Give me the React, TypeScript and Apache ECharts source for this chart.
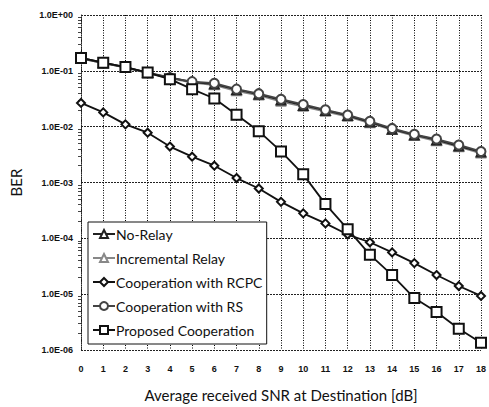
import React, { useEffect, useRef } from "react";
import * as echarts from "echarts";

const snr = [0, 1, 2, 3, 4, 5, 6, 7, 8, 9, 10, 11, 12, 13, 14, 15, 16, 17, 18];
const noRelay = [0.171, 0.14, 0.117, 0.093, 0.076, 0.063, 0.058, 0.046, 0.038, 0.03, 0.024, 0.0195, 0.0158, 0.0121, 0.009, 0.0071, 0.0058, 0.0045, 0.0035];
const incrementalRelay = [0.165, 0.136, 0.113, 0.09, 0.073, 0.061, 0.055, 0.043, 0.036, 0.028, 0.0228, 0.0185, 0.015, 0.0115, 0.0087, 0.0068, 0.0055, 0.0043, 0.0033];
const coopRCPC = [0.0266, 0.018, 0.011, 0.0078, 0.0044, 0.0029, 0.002, 0.0012, 0.00078, 0.00045, 0.00028, 0.000185, 0.000117, 0.000085, 0.000056, 0.000036, 0.000022, 0.000014, 0.0000093];
const coopRS = [0.168, 0.138, 0.115, 0.092, 0.075, 0.064, 0.06, 0.047, 0.039, 0.031, 0.025, 0.02, 0.0162, 0.0125, 0.0093, 0.0073, 0.006, 0.0047, 0.0036];
const proposed = [0.17, 0.14, 0.117, 0.093, 0.071, 0.047, 0.032, 0.0163, 0.0083, 0.0036, 0.0014, 0.00041, 0.000146, 0.000051, 0.000022, 0.0000085, 0.0000048, 0.0000024, 0.00000135];

const seriesNames = ["No-Relay", "Incremental Relay", "Cooperation with RCPC", "Cooperation with RS", "Proposed Cooperation"];

function pairs(v: number[]) {
  return snr.map((x, i) => [x, v[i]]);
}

export default function App() {
  const ref = useRef<HTMLDivElement>(null);
  useEffect(() => {
    if (!ref.current) return;
    const chart = echarts.init(ref.current, null, { renderer: "svg" });
    const tickFont = { fontFamily: "Liberation Sans", fontSize: 9, fontWeight: "bold" as const, color: "#111" };
    const mk = (name: string, data: number[], symbol: string, color: string, width: number, size: number, z: number) => ({
      name,
      type: "line",
      data: pairs(data),
      symbol,
      symbolSize: size,
      showSymbol: true,
      showAllSymbol: true,
      z,
      color,
      lineStyle: { color, width, type: "solid" },
      itemStyle: { color, borderWidth: 1, borderType: "solid" },
    });
    chart.setOption({
      animation: false,
      backgroundColor: "#fff",
      grid: { left: 80, right: 2, top: 15, bottom: 53 },
      xAxis: {
        type: "value",
        min: 0,
        max: 18,
        interval: 1,
        name: "Average received SNR at Destination [dB]",
        nameLocation: "middle",
        nameGap: 37,
        nameTextStyle: { fontFamily: "Lato", fontSize: 15, color: "#111" },
        axisLine: { show: false },
        axisTick: { show: false },
        axisLabel: { ...tickFont, margin: 14 },
        splitLine: { show: true, lineStyle: { color: "#000", type: [1, 1.5], width: 1 } },
      },
      yAxis: {
        type: "log",
        logBase: 10,
        min: 1e-6,
        max: 1,
        name: "BER",
        nameLocation: "middle",
        nameGap: 58,
        nameTextStyle: { fontFamily: "Lato", fontSize: 15, color: "#111" },
        axisLine: { show: true, lineStyle: { color: "#222", type: [1, 1] } },
        axisTick: { show: false },
        minorTick: { show: true, splitNumber: 9, length: 3, lineStyle: { color: "#444" } },
        axisLabel: {
          ...tickFont,
          margin: 8,
          formatter: (v: number) => {
            const e = Math.round(Math.log10(v));
            const s = e < 0 ? "-" : "+";
            const a = Math.abs(e);
            return "1.0E" + s + (a < 10 ? "0" + a : "" + a);
          },
        },
        splitLine: { show: true, lineStyle: { color: "#222", type: [2, 1], width: 1.2 } },
      },
      legend: {
        orient: "vertical",
        left: 88,
        top: 222,
        data: seriesNames,
        backgroundColor: "#fff",
        borderColor: "#111",
        borderWidth: 1,
        padding: [5, 4, 7, 4],
        itemGap: 10,
        itemWidth: 22,
        itemHeight: 10,
        textStyle: { fontFamily: "Lato", fontSize: 14, color: "#111", padding: [0, 0, 0, -4] },
      },
      series: [
        mk(seriesNames[0], noRelay, "emptyTriangle", "#222", 1.8, 9, 3),
        mk(seriesNames[1], incrementalRelay, "emptyTriangle", "#888", 1.5, 8, 2),
        mk(seriesNames[2], coopRCPC, "emptyDiamond", "#111", 1.8, 8, 4),
        mk(seriesNames[3], coopRS, "emptyCircle", "#444", 1.8, 9, 3),
        mk(seriesNames[4], proposed, "emptyRect", "#111", 1.8, 10, 5),
      ],
    });
    return () => chart.dispose();
  }, []);
  return <div ref={ref} style={{ width: 489, height: 407, position: "absolute", left: 0, top: 0 }} />;
}
